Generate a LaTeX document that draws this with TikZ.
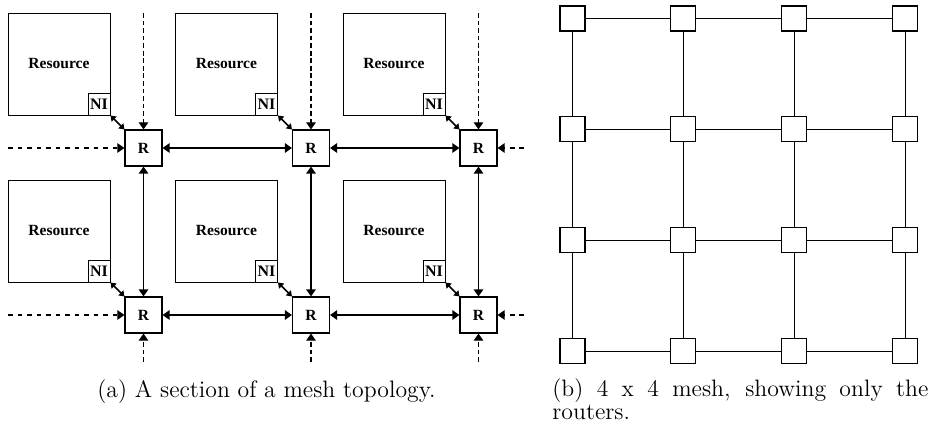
\documentclass[tikz,border=0pt]{standalone}
\usepackage{fontspec}
\newfontfamily\timesfont{Liberation Serif}
\usetikzlibrary{arrows.meta}
\begin{document}
\begin{tikzpicture}[x=0.4631pt,y=-0.4631pt,
  resbox/.style={draw,line width=0.45pt,minimum width=102*0.4631pt,minimum height=102*0.4631pt,inner sep=0pt,font=\timesfont\bfseries\fontsize{7.2}{8}\selectfont},
  nibox/.style={draw,fill=white,line width=0.45pt,minimum width=22*0.4631pt,minimum height=22*0.4631pt,inner sep=0pt,font=\timesfont\bfseries\fontsize{7.4}{8}\selectfont},
  rbox/.style={draw,line width=0.5pt,minimum width=37*0.4631pt,minimum height=36*0.4631pt,inner sep=0pt,font=\timesfont\bfseries\fontsize{7.2}{8}\selectfont},
  link/.style={line width=0.75pt,{Triangle[length=3.3pt,width=4.4pt]}-{Triangle[length=3.3pt,width=4.4pt]}},
  nilink/.style={line width=0.75pt,{Triangle[length=2.4pt,width=3.2pt]}-{Triangle[length=2.4pt,width=3.2pt]}},
  hdash/.style={line width=0.6pt,dash pattern=on 2.3pt off 2.1pt,-{Triangle[length=3.3pt,width=4.4pt]}},
  vdash/.style={line width=0.6pt,dash pattern=on 2.2pt off 1.3pt,-{Triangle[length=3.3pt,width=4.4pt]}},
  mbox/.style={draw,line width=0.5pt,minimum width=25*0.4631pt,minimum height=25*0.4631pt,inner sep=0pt},
  mlink/.style={line width=0.45pt},
  captxt/.style={font=\fontsize{11}{11}\selectfont,inner sep=0pt}]
\useasboundingbox (0,0) rectangle (931,436);
% ---------- (a) ----------
\foreach \c/\cx in {1/0,2/167.5,3/335}{
  \foreach \r/\ry in {1/0,2/167}{
    \node[resbox] (res\c\r) at (59+\cx,64+\ry) {Resource};
    \node[nibox,anchor=south east] (ni\c\r) at (res\c\r.south east) {NI};
    \node[rbox] (R\c\r) at (143.5+\cx,148+\ry) {R};
    \draw[nilink] (ni\c\r.south east) -- (R\c\r.north west);
  }
}
% horizontal solid links
\foreach \r in {1,2}{
  \draw[link] (R1\r) -- (R2\r);
  \draw[link] (R2\r) -- (R3\r);
}
% vertical solid links
\foreach \c in {1,2,3}{
  \draw[link] (R\c1) -- (R\c2);
}
% dashed inputs
\foreach \c/\cx in {1/143.5,2/311,3/478.5}{
  \coordinate (top\c) at (\cx,13);
  \coordinate (bot\c) at (\cx,362);
  \draw[vdash] (top\c) -- (R\c1);
  \draw[vdash] (bot\c) -- (R\c2);
}
\foreach \r/\ry in {1/148,2/315}{
  \coordinate (left\r) at (8,\ry);
  \coordinate (right\r) at (524,\ry);
  \draw[hdash] (left\r) -- (R1\r);
  \draw[hdash] (right\r) -- (R3\r);
}
\node[captxt,anchor=base] (capa) at (266.5,397) {(a) A section of a mesh topology.};
% ---------- (b) ----------
\foreach \i/\mx in {1/572.5,2/683.3,3/794.1,4/905}{
  \foreach \j/\my in {1/18.5,2/129.3,3/240.1,4/351}{
    \node[mbox] (m\i\j) at (\mx,\my) {};
  }
}
\foreach \j in {1,2,3,4}{
  \draw[mlink] (m1\j) -- (m2\j) -- (m3\j) -- (m4\j);
}
\foreach \i in {1,2,3,4}{
  \draw[mlink] (m\i1) -- (m\i2) -- (m\i3) -- (m\i4);
}
\node[captxt,anchor=base west,text width=376*0.4631pt,align=justify] (capb) at (552,396) {(b) 4 x 4 mesh, showing only the routers.};
\end{tikzpicture}
\end{document}
